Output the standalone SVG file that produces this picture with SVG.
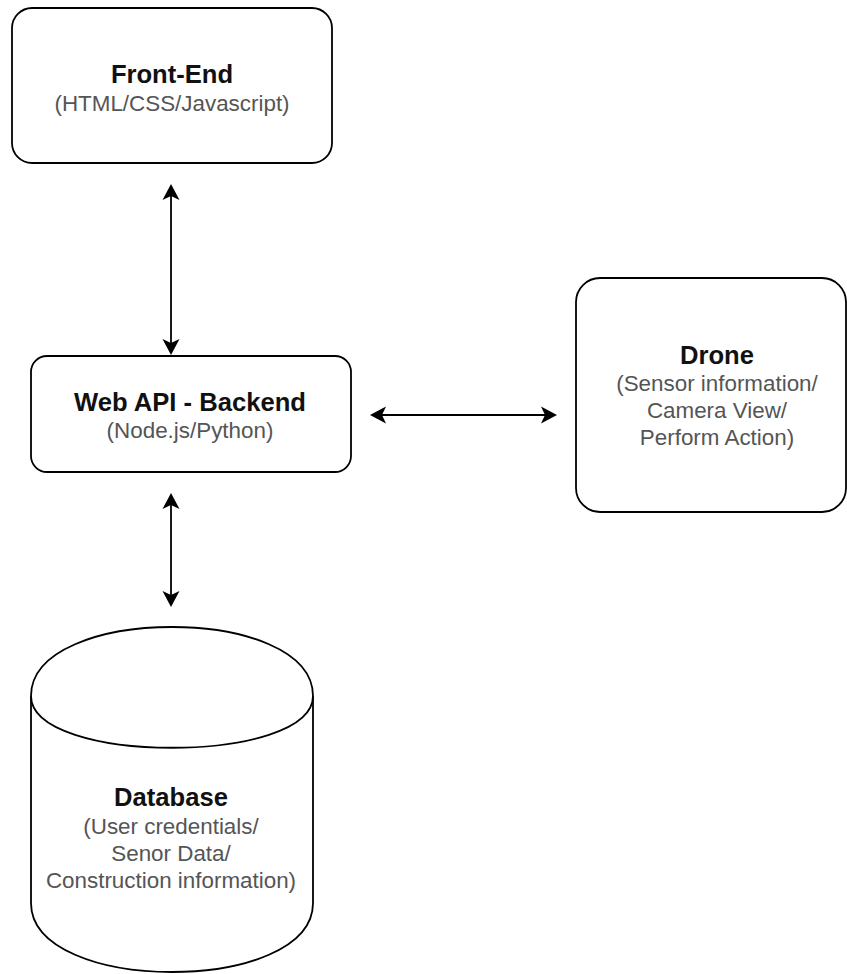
<svg xmlns="http://www.w3.org/2000/svg" width="847" height="974" viewBox="0 0 847 974">
  <style>
    .shape { fill: #ffffff; stroke: #000000; stroke-width: 1.8; }
    .title { font-family: "Liberation Sans", Arial, sans-serif; font-size: 25.6px; font-weight: bold; fill: #111111; text-anchor: middle; }
    .sub { font-family: "Liberation Sans", Arial, sans-serif; font-size: 22.4px; fill: #555555; text-anchor: middle; }
    .link { fill: none; stroke: #000000; stroke-width: 1.8; marker-start: url(#arrow); marker-end: url(#arrow); }
  </style>
  <defs>
    <!-- classic notched arrowhead; reference point sits at the notch -->
    <marker id="arrow" markerUnits="userSpaceOnUse" markerWidth="18" markerHeight="18" viewBox="0 0 18 18" refX="4" refY="9" orient="auto-start-reverse">
      <path d="M0,0.5 L16,9 L0,17.5 L4,9 Z" fill="#000000"/>
    </marker>
  </defs>
  <rect width="847" height="974" fill="#ffffff"/>

  <g id="connectors">
    <line class="link" x1="171" y1="196" x2="171" y2="343"/>
    <line class="link" x1="382" y1="415" x2="545" y2="415"/>
    <line class="link" x1="171" y1="505" x2="171" y2="595"/>
  </g>

  <g id="front-end">
    <rect class="shape" x="12" y="8" width="320" height="155" rx="20" ry="20"/>
    <text class="title" x="172" y="83">Front-End</text>
    <text class="sub" x="172" y="111">(HTML/CSS/Javascript)</text>
  </g>

  <g id="web-api">
    <rect class="shape" x="31" y="356" width="320" height="116" rx="16" ry="16"/>
    <text class="title" x="190" y="411">Web API - Backend</text>
    <text class="sub" x="190" y="438">(Node.js/Python)</text>
  </g>

  <g id="drone">
    <rect class="shape" x="576" y="278" width="270" height="234" rx="24" ry="24"/>
    <text class="title" x="717" y="364">Drone</text>
    <text class="sub" x="717" y="391">(Sensor information/</text>
    <text class="sub" x="717" y="418">Camera View/</text>
    <text class="sub" x="717" y="445">Perform Action)</text>
  </g>

  <g id="database">
    <path class="shape" d="M31,696 C31,604 313,604 313,696 L313,903 C313,995 31,995 31,903 Z"/>
    <path class="shape" fill="none" d="M31,696 C31,765 313,765 313,696"/>
    <text class="title" x="171" y="806">Database</text>
    <text class="sub" x="171" y="834">(User credentials/</text>
    <text class="sub" x="171" y="861">Senor Data/</text>
    <text class="sub" x="171" y="888">Construction information)</text>
  </g>
</svg>
